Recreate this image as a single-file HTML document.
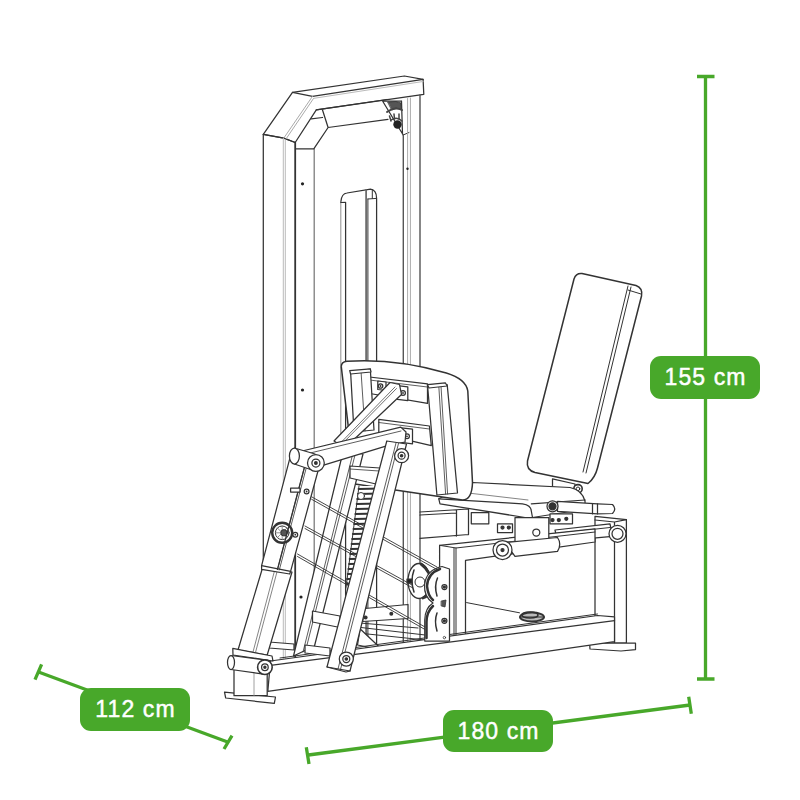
<!DOCTYPE html>
<html><head><meta charset="utf-8">
<style>
html,body{margin:0;padding:0;background:#fff;}
body{width:800px;height:800px;overflow:hidden;position:relative;}
svg{position:absolute;left:0;top:0;filter:blur(0.3px);}
.lbl{position:absolute;background:#48a82a;color:#fff;border-radius:11px;font-family:"Liberation Sans",sans-serif;font-weight:normal;font-size:23px;letter-spacing:1.1px;text-indent:1px;-webkit-text-stroke:0.45px #fff;text-align:center;}
</style></head><body>
<svg width="800" height="800" viewBox="0 0 800 800">
<g fill="#fff" stroke="#333" stroke-width="1.25" stroke-linejoin="round" stroke-linecap="round">
<!-- TOWER -->
<path d="M292.5,92.3 L404.4,76 L423.1,79.4 L423.8,94.4 L316.3,109.8 L295.2,142.5 L283.8,138.1 L263.3,134.4 Z"/>
<path d="M292.5,92.3 L312.5,96.3 L423.1,79.4 M263.3,134.4 L283.8,138.1 L295.2,142.5" fill="none"/>
<path d="M312.5,96.3 L283.8,138.1 M313.5,98.5 L286,139" fill="none" stroke="#aaa" stroke-width="1"/>
<path d="M314,98.3 L423,81.5" fill="none" stroke="#bbb" stroke-width="1"/>
<path d="M263.3,134.4 L263.3,660" fill="none"/>
<path d="M283.3,138.1 L283.3,660 M285.3,140 L285.3,660" fill="none" stroke="#bbb" stroke-width="1"/>
<path d="M295.2,142.5 L295.2,660" fill="none" stroke-width="1.8"/>
<path d="M314.2,148.8 L314.2,660" fill="none" stroke="#777"/>
<path d="M316.3,109.8 L386.9,99.5 M296.3,148.8 L313.8,148.8 L328.1,127.5 L322.5,110 M311.3,118.8 L322.5,117.5 M328.1,127.5 L388,119.3" fill="none"/>
<path d="M382.7,101.2 L401.5,101 L402.5,134 L403.2,135 Z"/>
<path d="M388,102 L396,101.5 L401,103 L401.5,110 L396,108 L392,110 Z" fill="#555" stroke-width="0.8"/>
<path d="M387,112 Q395,106 402,110" fill="none" stroke="#444" stroke-width="2"/>
<path d="M389.5,116 L391,121 M394,114 L394.5,119 M399,114 L399,119" fill="none" stroke="#444" stroke-width="1.5"/>
<path d="M391,120 Q397,116 402,121" fill="none" stroke="#444" stroke-width="1.5"/>
<circle cx="397.5" cy="124.5" r="4.2" fill="#222" stroke="none"/>
<path d="M403.2,135 L409,132.5" fill="none" stroke-width="1"/>
<path d="M420,95 L420,660 M403.3,135 L403.3,660" fill="none" stroke="#555" stroke-width="1.4"/>
<path d="M407.6,98.5 L407.6,660 M410.4,98 L410.4,660" fill="none" stroke="#aaa" stroke-width="1"/>
<!-- slot -->
<path d="M340.8,202 Q341.5,193.5 347,193 L370.5,189.2 Q376.6,190 376.6,198.4 L376.6,660" fill="none"/>
<path d="M340.8,202 L340.8,660" fill="none" stroke="#999" stroke-width="1.1"/>
<path d="M340.8,202.5 L345.6,202.3 M345.6,202.3 L345.6,660" fill="none"/>
<path d="M366.1,190 L366.1,660" fill="none" stroke="#666" stroke-width="1.7"/>
<path d="M367.9,199 L367.9,660 M367.9,199 L376.6,198.4 M372.3,189.5 L372.3,198.5" fill="none" stroke-width="1"/>
<circle cx="302.5" cy="183.8" r="1.6" fill="#222" stroke="none"/>
<circle cx="407.5" cy="168.8" r="1.2" fill="#222" stroke="none"/>
<circle cx="302.5" cy="390" r="1.6" fill="#222" stroke="none"/>
<circle cx="301" cy="597" r="1.6" fill="#222" stroke="none"/>
<!-- REAR SUBFRAME -->
<path d="M420,512 L468.5,509 M420,515 L456.5,513 M420,538.3 L468.5,534.5 M456.5,510 L456.5,536 M468.5,509 L468.5,534.5" fill="none"/>
<!-- BACK PAD -->
<path stroke-width="1.5" d="M582,273.6 L636,285.5 Q643,288 641.5,296 L597.5,468 Q595,478 588,483.5 L535,472.5 Q526,470 527.5,461 L574,279 Q576,273 582,273.6 Z"/>
<path d="M628,286 L583,472 M631,287 L586,473 M628,290 L641,294" fill="none" stroke-width="1"/>
<path d="M552.5,478.8 L575,484 L575,490 L552.5,487 Z"/>
<circle cx="578" cy="488.8" r="4.2" fill="#fff" stroke-width="1.6"/><circle cx="578" cy="488.8" r="1.8" fill="#fff" stroke-width="1"/>
<!-- RIGHT POST + FOOT -->
<path d="M595,516.3 L626.4,519.7 L626.4,643 L595,643 Z"/>
<path d="M595,520 L614.5,522 L614.5,643 M614.5,522 L626.4,519.7" fill="none"/>
<path d="M589.6,643 L635.5,643 L635.5,649.6 L621,651 L590,649 Z"/>
<!-- SEAT CUSHION -->
<path d="M472.5,482.5 L570,487.5 Q582,490 585,501 L585,506 L580,510 L532.5,517.5 Q528,518 525,517.5 L440,503.8 L438.8,498.8 Z"/>
<path d="M438.8,498.8 L522.5,503.8 Q531,505 531.3,511 L532.5,517.5 M531.3,503.8 L585,500" fill="none"/>
<path d="M468,493 L528,500" fill="none" stroke-width="0.9" stroke="#777"/>
<!-- seat hardware -->
<path d="M471.3,512.5 L488.8,512.5 L488.8,523.8 L471.3,523.8 Z"/>
<path d="M497.5,523.8 L512.5,523.8 L512.5,532.5 L497.5,532.5 Z"/>
<circle cx="502.5" cy="527.5" r="1.5" fill="#333"/><circle cx="508.8" cy="527.5" r="1.5" fill="#333"/>
<path d="M550,513.8 L572.5,513.8 L572.5,523.8 L550,523.8 Z"/>
<circle cx="552.5" cy="520" r="1.5" fill="#333"/><circle cx="558.8" cy="520" r="1.5" fill="#333"/><circle cx="566.3" cy="518.8" r="1.5" fill="#333"/>
<!-- seat adjust tube -->
<path d="M557.5,501.3 L597.5,503.8 L612.5,504.5 Q617,509 612.5,513.5 L597.5,513.8 L557.5,511.3 Z"/>
<path d="M592.5,503.5 L592.5,513.8 M597.5,503.8 L597.5,513.8" fill="none"/>
<circle cx="552.5" cy="506.3" r="5.5"/><circle cx="552.5" cy="506.3" r="3.5" fill="#333"/>
<!-- right beam -->
<path d="M555,530 L610,523.8 L612.5,536.3 L557.5,541.3 Z"/>
<path d="M552.5,533.8 L610,527.5" fill="none" stroke-width="1"/>
<circle cx="617.5" cy="533.8" r="8.5"/><circle cx="617.5" cy="533.8" r="5.5"/>
<!-- FRONT L FRAME -->
<path d="M439.6,545.3 L595,528.9 L595,542 L465.5,560.4 L465.5,640 L439.6,640 Z"/>
<path d="M439.6,545.3 L456,548 L595,532 M454,548 L454,640 M456,548 L456,640" fill="none" stroke-width="1"/>
<!-- block -->
<path d="M515,517.5 L548.8,517.5 L548.8,542.5 L515,542.5 Z"/>
<circle cx="536.3" cy="532.5" r="3.5"/>
<!-- lower tube + roller -->
<path d="M505,542.5 L557.5,537.5 Q562,544 557.5,551.3 L515,556.3 Z"/>
<circle cx="502.5" cy="550" r="9.5"/><circle cx="502.5" cy="550" r="6"/><circle cx="502.5" cy="550" r="1.5" fill="#333"/>
<!-- tower column foot + rear base beam -->
<path d="M269,642 L294,644 L294,650 L269,648 Z"/>
<path d="M365,608.5 L408,604.5 L408,618.5 L362.5,621.5 Z"/>
<path d="M360,623 L418,628 M361,627.5 L425,635 M358,633 L425,640" fill="none" stroke-width="1"/>
<path d="M360,628.8 L382.5,650 L357.5,645 Z"/>
<circle cx="365.6" cy="617.5" r="2" fill="#333" stroke="none"/><circle cx="391.3" cy="613.8" r="2" fill="#333" stroke="none"/>
<!-- BASE BEAM -->
<path d="M270.5,661 L597.5,615.5 L614.5,616.8 L614.5,641.7 L267.8,691.4 Z"/>
<path d="M270.5,665.3 L614.5,620.7" fill="none"/>
<path d="M280,658 L597.5,614" fill="none" stroke-width="1"/>
<!-- foot pedal -->
<ellipse cx="532" cy="617" rx="12" ry="4.5" fill="#bbb" stroke-width="2"/>
<ellipse cx="530" cy="615" rx="8" ry="3" fill="none" stroke-width="1.5"/>
<path d="M520,617 L544,617" fill="none" stroke="#333" stroke-width="1.2"/>
<path d="M466.6,602.6 L519.5,612.8" fill="none" stroke-width="1"/>
<!-- PULLEY PLATE -->
<ellipse cx="419" cy="581" rx="11" ry="17.5" stroke-width="1.3"/>
<path d="M421,564 Q432,572 431,585 Q430,596 423,598" fill="none" stroke="#333" stroke-width="2.8"/>
<path d="M414,570 Q410,581 414,592" fill="none" stroke-width="1.5"/>
<circle cx="420" cy="582" r="5" stroke-width="1"/>
<path d="M407,579 L412,579 L412,583 L407,583 Z" fill="#222"/>
<path d="M442,566.5 L449.5,569 L449.5,641 L424.75,641 L424.75,620 Q425,608 433,603 Q424,597 424.5,585 Q426,570 442,566.5 Z"/>
<path d="M440,569 Q428,573 427,586 Q428,596 433,600 M433,606 Q426.5,612 426.5,622 L426.5,638" fill="none" stroke="#333" stroke-width="2.5"/>
<path d="M437.5,578 Q434,586 437,596 M437,613 Q434,621 437,631" fill="none" stroke-width="1.5"/>
<circle cx="444.4" cy="587" r="2.5" fill="#fff"/><circle cx="444.4" cy="587" r="1" fill="#222"/>
<circle cx="444.4" cy="620.8" r="2.5" fill="#fff"/><circle cx="444.4" cy="620.8" r="1" fill="#222"/>
<path d="M441.5,601 L446,600 L445,607 L441.5,606 Z" fill="#555" stroke-width="0.8"/>
<circle cx="444.4" cy="637.6" r="1.2" fill="#fff" stroke-width="0.8"/>
<!-- HIP PAD -->
<path stroke-width="1.5" d="M346.9,361.3 Q395,358 446.3,373 Q466,379 467.8,391 L472.5,482.5 Q472,500 462.5,500 L355,484 L341.3,366.9 Q341,362 346.9,361.3 Z"/>
<!-- crossbars -->
<path d="M361,376 L427.5,383.8 L427.5,403.4 L361,392 Z"/>
<path d="M361,379 L427.5,387" fill="none" stroke-width="0.8"/>
<path d="M378.8,419.4 L429.4,426 L431.3,445.6 L378.8,433.4 Z"/>
<path d="M378.8,422.5 L429.4,429" fill="none" stroke-width="0.8"/>
<path d="M377.8,381 L386,382 L386,390.5 L377.8,389.5 Z"/><circle cx="380.6" cy="386" r="2.2" fill="#fff"/><circle cx="380.6" cy="386" r="0.9" fill="#333" stroke="none"/>
<path d="M397.5,385.6 L407.8,386.8 L407.8,400.6 L397.5,399.4 Z"/><circle cx="403" cy="393" r="2.4" fill="#fff"/><circle cx="403" cy="393" r="0.9" fill="#333" stroke="none"/>
<path d="M401.3,427.8 L412.5,429.2 L412.5,443.8 L401.3,442.4 Z"/><circle cx="407" cy="436.3" r="2.4" fill="#fff"/><circle cx="407" cy="436.3" r="0.9" fill="#333" stroke="none"/>
<!-- posts -->
<path d="M350.6,372 L370.3,369 L374,430 L354,432 Z"/>
<path d="M361,371 L365,431" fill="none" stroke-width="0.8"/>
<path d="M349.7,370.6 L370.3,368.8 L371,372 L350.6,374 Z"/>
<path d="M427.5,384.7 L447.2,384.7 L457.5,493 L436.9,495 Z"/>
<path d="M438.8,386 L445.6,494 M441,386 L447.6,494" fill="none" stroke-width="0.8"/>
<path d="M427.5,384.7 L445.3,382.8 L447.2,386 L429,388 Z"/>
<!-- weight stack stripes -->
<path d="M359,486 L378,486 L362,590 L346,588 Z" fill="#fff" stroke="none"/>
<g stroke="#333" stroke-width="2">
<path d="M358.6,489.0 L380.6,488.5"/>
<path d="M358.0,494.0 L380.0,493.5"/>
<path d="M357.3,499.0 L379.3,498.5"/>
<path d="M356.7,504.0 L378.7,503.5"/>
<path d="M356.1,509.0 L378.1,508.5"/>
<path d="M355.4,514.0 L377.4,513.5"/>
<path d="M354.8,519.0 L376.8,518.5"/>
<path d="M354.2,524.0 L376.2,523.5"/>
<path d="M353.5,529.0 L375.5,528.5"/>
<path d="M352.9,534.0 L374.9,533.5"/>
<path d="M352.2,539.0 L374.2,538.5"/>
<path d="M351.6,544.0 L373.6,543.5"/>
<path d="M351.0,549.0 L373.0,548.5"/>
<path d="M350.3,554.0 L372.3,553.5"/>
<path d="M349.7,559.0 L371.7,558.5"/>
<path d="M349.1,564.0 L371.1,563.5"/>
<path d="M348.4,569.0 L370.4,568.5"/>
<path d="M347.8,574.0 L369.8,573.5"/>
<path d="M347.1,579.0 L369.1,578.5"/>
<path d="M346.5,584.0 L368.5,583.5"/>
</g>
<path d="M359,486 L346,588" fill="none" stroke-width="1"/>
<circle cx="361" cy="496" r="3.5" fill="#fff" stroke-width="1"/>
<!-- BACK DIAGONAL BAR X -->
<path d="M343,452 L363,454 L314.5,646 L293.5,656 Z"/>
<path d="M352.5,455 L303,652 M355,455 L305.5,651" fill="none" stroke-width="0.8"/>
<path d="M350,466 L380,468 L376,484 L350,478 Z"/>
<path d="M350,469 L379,471" fill="none" stroke-width="0.8"/>
<!-- crossbar tubes behind main arm -->
<path d="M312.5,611 L340,616 L340,627.5 L312.5,622 Z"/>
<path d="M305,645 L330,648 L330,656 L305,653 Z"/>
<!-- CABLES -->
<g fill="none" stroke="#333" stroke-width="0.9">
<path d="M311.6,496.8 L437,567 M311.6,499.3 L437,569.5"/>
<path d="M305,526 L412,585 M305,528.5 L412,587.5"/>
<path d="M297.5,554 L425,627 M297.5,556.5 L425,629.5"/>
</g>
<!-- UPPER STRUT -->
<path d="M334,441 L390,382.5 L399.5,384.5 L401.5,394.5 L345,448 Z"/>
<path d="M339.5,444 L395,387 M341,445 L396.5,388.5" fill="none" stroke-width="0.7"/>
<!-- TOP HORIZONTAL ARM -->
<path d="M298,452 L400.8,427.1 L406,432 L405,442 Q398,443 385,446.4 L322,465.6 L296,466 Z"/>
<path d="M302,455 L401,431" fill="none" stroke-width="0.8"/>
<!-- MAIN FRONT ARM -->
<path d="M386.8,441 L406.5,444 L350,671 L327,667 Z"/>
<path d="M396,443 L338,669 M398.5,443.5 L340.5,669.5" fill="none" stroke-width="0.8"/>
<path d="M327,667 L346,672 L350,671" fill="none"/>
<circle cx="346.3" cy="659" r="7"/><circle cx="346.3" cy="659" r="3.5"/><circle cx="346.3" cy="659" r="1.2" fill="#333"/>
<circle cx="401.6" cy="455.7" r="7"/><circle cx="401.6" cy="455.7" r="3.5"/><circle cx="401.6" cy="455.7" r="1.2" fill="#333"/>
<!-- LEFT ARM lower tube -->
<path d="M262.8,567 L292,572 L267.2,655 L238,650 Z"/>
<path d="M275,569 L253,652 M277.5,570 L255.5,652.5" fill="none" stroke-width="0.8" stroke="#666"/>
<!-- LEFT LEVER -->
<path d="M289.7,458.8 L318.8,468 L290.6,571.3 L289.7,574 L261.6,569.4 L261.6,565.6 Z"/>
<path d="M304.7,466.3 L277.5,569.4 M306.5,467 L279.3,570" fill="none" stroke-width="0.8"/>
<path d="M261.6,565.6 L290.6,571.3" fill="none"/>
<circle cx="282.2" cy="532.8" r="10" stroke-width="2.4"/><circle cx="282.2" cy="532.8" r="6.8" stroke-width="1"/><path d="M282.2,526 L282.2,539.6 M275.4,532.8 L289,532.8 M277.4,528 L287,537.6 M287,528 L277.4,537.6" fill="none" stroke="#777" stroke-width="0.8"/><circle cx="284" cy="532.8" r="3.2" fill="#555" stroke-width="1"/>
<path d="M304.7,466.3 L277.5,569.4" fill="none" stroke-width="1.3"/>
<circle cx="306.6" cy="491.5" r="2.4" fill="#fff" stroke-width="1.2"/><circle cx="306.6" cy="491.5" r="0.9" fill="#333" stroke="none"/><circle cx="295.3" cy="534.7" r="2.4" fill="#fff" stroke-width="1.2"/><circle cx="295.3" cy="534.7" r="0.9" fill="#333" stroke="none"/>
<path d="M290.6,488 L300,488 L300,492 L290.6,492 Z"/>
<!-- top pivot cylinder -->
<path d="M294.4,448 L315,454 L315,471 L294.4,464 Z"/>
<ellipse cx="294.4" cy="456" rx="5" ry="8"/>
<circle cx="315.9" cy="463" r="8.4"/><circle cx="315.9" cy="463" r="4"/><circle cx="315.9" cy="463" r="1.3" fill="#333"/>
<!-- LEFT FOOT -->
<path d="M224.5,692.2 L275.5,697 L274.3,703.4 L225.7,698 Z"/>
<path d="M234,667 L267.2,669 L267.2,695.7 L234,695.7 Z"/>
<path d="M254,668 L254,695.7" fill="none" stroke-width="0.8" stroke="#888"/>
<path d="M232.8,648.4 L272,656 L273,661 L233,655 Z"/>
<path d="M231,655.5 L265,660 L265,674.3 L231,669.5 Z"/>
<ellipse cx="231" cy="662.5" rx="3.5" ry="7"/>
<circle cx="264.9" cy="667.2" r="7.3" stroke-width="1.6"/><circle cx="264.9" cy="667.2" r="3.3"/><circle cx="264.9" cy="667.2" r="1.1" fill="#333"/>
</g>
<g stroke="#48a82a" stroke-width="3.3" fill="none" stroke-linecap="butt">
<path d="M705.5,76.5 L705.5,679"/>
<path d="M697,76.5 L714.5,76.5 M697,679 L714.5,679"/>
<path d="M38.5,672 L229,742.5"/>
<path d="M35,679.6 L41.6,664.4 M224,749 L232,735.7"/>
<path d="M308.4,755 L690,705"/>
<path d="M306.3,747.2 L309,764 M688.7,696.7 L691.3,713.8"/>
</g>
</svg>
<div class="lbl" style="left:650px;top:356px;width:110px;height:43px;line-height:43px;">155 cm</div>
<div class="lbl" style="left:80px;top:688px;width:110px;height:43px;line-height:43px;">112 cm</div>
<div class="lbl" style="left:443px;top:710px;width:110px;height:42px;line-height:42px;">180 cm</div>
</body></html>
